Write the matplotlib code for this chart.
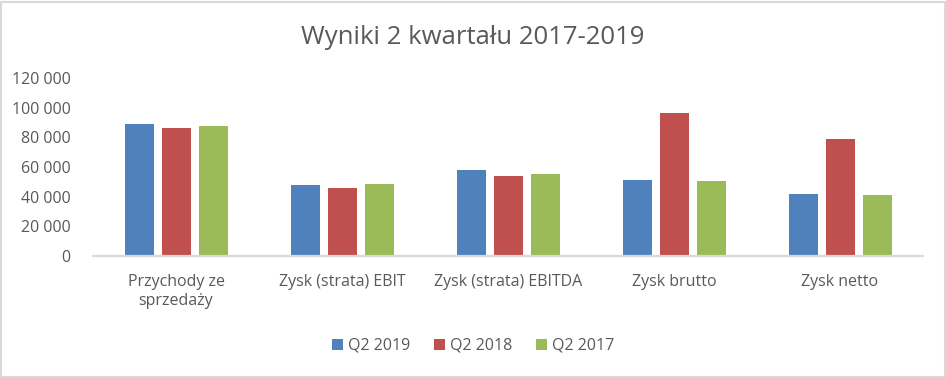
import numpy as np
import matplotlib.pyplot as plt
from matplotlib.patches import Rectangle

categories = ["Przychody ze\nsprzedaży", "Zysk (strata) EBIT", "Zysk (strata) EBITDA",
              "Zysk brutto", "Zysk netto"]
q2_2019 = [89000, 48000, 58000, 51200, 41800]
q2_2018 = [86300, 46000, 54000, 96400, 78900]
q2_2017 = [87600, 48500, 55300, 50600, 41100]
series = [("Q2 2019", q2_2019, "#4f81bd"),
          ("Q2 2018", q2_2018, "#c0504d"),
          ("Q2 2017", q2_2017, "#9bbb59")]
yticks = [0, 20000, 40000, 60000, 80000, 100000, 120000]

plt.rcParams["font.family"] = ["Open Sans", "DejaVu Sans"]
txt = "#595959"

fig = plt.figure(figsize=(9.46, 3.77), dpi=100)
ax = fig.add_axes([93 / 946, 1 - 256 / 377, 830 / 946, 178 / 377])

x = np.arange(len(categories))
step = 37 / 166
width = 29 / 166
for i, (name, vals, col) in enumerate(series):
    ax.bar(x + (i - 1) * step, vals, width, color=col, label=name, zorder=2)

ax.set_xlim(-0.5, len(categories) - 0.5)
ax.set_ylim(0, 120000)
ax.set_yticks(yticks)
ax.set_yticklabels([f"{v:,}".replace(",", " ") for v in yticks], color=txt, fontsize=11.5)
ax.set_xticks(x)
ax.set_xticklabels(categories, color=txt, fontsize=11.5, linespacing=1.25)
ax.tick_params(axis="y", length=0, pad=16)
ax.tick_params(axis="x", length=0, pad=13)
for s in ["top", "right", "left"]:
    ax.spines[s].set_visible(False)
ax.spines["bottom"].set_color("#d9d9d9")
ax.spines["bottom"].set_linewidth(1.6)

fig.text(0.5, 1 - 38 / 377, "Wyniki 2 kwartału 2017-2019", ha="center", va="center",
         fontsize=18.5, color=txt)
fig.legend(loc="center", bbox_to_anchor=(0.5, 1 - 346 / 377), ncol=3, frameon=False,
           fontsize=11.5, labelcolor=txt, handlelength=0.7, handleheight=0.7,
           handletextpad=0.3, columnspacing=1.5)

fig.patches.append(Rectangle((0.5 / 946, 0.5 / 377), 1 - 2 / 946, 1 - 2 / 377,
                             transform=fig.transFigure, fill=False,
                             edgecolor="#d9d9d9", linewidth=1.5))

fig.savefig("out.png", dpi=100)
